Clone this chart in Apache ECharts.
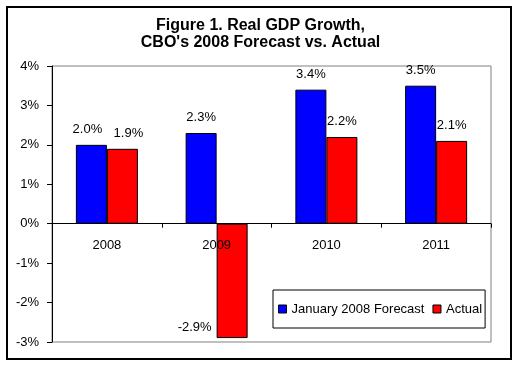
<!DOCTYPE html>
<html>
<head>
<meta charset="utf-8">
<script src="https://cdn.jsdelivr.net/npm/echarts@6/dist/echarts.min.js"></script>
<style>
html,body{margin:0;padding:0;background:#fff;}
#chart{width:521px;height:365px;}
</style>
</head>
<body>
<div id="chart"></div>
<script>
const categories = ['2008', '2009', '2010', '2011'];
const forecast = [2.0, 2.3, 3.4, 3.5];
const actual = [1.9, -2.9, 2.2, 2.1];
const seriesNames = ['January 2008 Forecast', 'Actual'];
const yTicks = [-3, -2, -1, 0, 1, 2, 3, 4];

const FONT = '"Liberation Sans", Arial, sans-serif';
const W = 521, H = 365;
const GRID = { left: 52, right: 30, top: 66, bottom: 23 };
const yMin = yTicks[0], yMax = yTicks[yTicks.length - 1];
// move the category axis up to the zero line
const plotH = H - GRID.top - GRID.bottom;
const zeroOffset = -plotH * (0 - yMin) / (yMax - yMin);

// small label nudges (style only) to keep neighbouring labels apart
const labelNudge = { forecast: [[-4, 0], null, null, null], actual: [[6, 0], null, null, null] };

function mkData(arr, nudges) {
  return arr.map((v, i) => {
    if (v < 0) {
      return { value: v, label: { position: 'left', distance: 5, offset: [0, 47] } };
    }
    if (nudges[i]) {
      return { value: v, label: { offset: nudges[i] } };
    }
    return v;
  });
}

const chart = echarts.init(document.getElementById('chart'), null, { renderer: 'canvas' });
chart.setOption({
  backgroundColor: '#ffffff',
  animation: false,
  title: {
    text: 'Figure 1. Real GDP Growth,\nCBO\'s 2008 Forecast vs. Actual',
    left: 'center',
    top: 17,
    padding: 0,
    textStyle: { fontFamily: FONT, fontSize: 16, fontWeight: 'bold', color: '#000', lineHeight: 17 }
  },
  graphic: [{
    type: 'rect',
    shape: { x: 7, y: 7, width: 504, height: 352 },
    style: { fill: 'none', stroke: '#000', lineWidth: 2 },
    silent: true,
    z: -1
  }],
  legend: {
    data: seriesNames,
    left: 273,
    top: 290,
    orient: 'horizontal',
    backgroundColor: '#fff',
    borderColor: '#000',
    borderWidth: 1,
    padding: [12, 3, 12, 5],
    itemWidth: 8,
    itemHeight: 8,
    itemGap: 8,
    icon: 'rect',
    itemStyle: { borderColor: '#000', borderWidth: 1 },
    textStyle: { fontFamily: FONT, fontSize: 13, color: '#000', lineHeight: 14 }
  },
  grid: {
    left: GRID.left, right: GRID.right, top: GRID.top, bottom: GRID.bottom,
    outerBoundsMode: 'none',
    containLabel: false,
    show: true,
    borderColor: '#808080',
    borderWidth: 1,
    backgroundColor: 'transparent'
  },
  xAxis: {
    type: 'category',
    data: categories,
    position: 'bottom',
    offset: zeroOffset,
    z: 10,
    axisLine: { onZero: false, lineStyle: { color: '#000', width: 1 } },
    axisTick: { show: true, length: 4, alignWithLabel: false, lineStyle: { color: '#000' } },
    axisLabel: { fontFamily: FONT, fontSize: 13, color: '#000', margin: 15 },
    splitLine: { show: false }
  },
  yAxis: {
    type: 'value',
    min: yMin,
    max: yMax,
    interval: 1,
    z: 10,
    axisLine: { show: true, lineStyle: { color: '#000', width: 1 } },
    axisTick: { show: true, length: 5, inside: false, lineStyle: { color: '#000' } },
    axisLabel: { fontFamily: FONT, fontSize: 13, color: '#000', margin: 13, formatter: v => v + '%' },
    splitLine: { show: false }
  },
  series: [
    {
      name: seriesNames[0],
      type: 'bar',
      data: mkData(forecast, labelNudge.forecast),
      barWidth: 31,
      barGap: '0%',
      itemStyle: { color: '#0000ff', borderColor: '#000', borderWidth: 1 },
      label: {
        show: true, position: 'top', distance: 9,
        fontFamily: FONT, fontSize: 13, color: '#000',
        formatter: p => p.value.toFixed(1) + '%'
      }
    },
    {
      name: seriesNames[1],
      type: 'bar',
      data: mkData(actual, labelNudge.actual),
      barWidth: 31,
      barGap: '0%',
      itemStyle: { color: '#ff0000', borderColor: '#000', borderWidth: 1 },
      label: {
        show: true, position: 'top', distance: 9,
        fontFamily: FONT, fontSize: 13, color: '#000',
        formatter: p => p.value.toFixed(1) + '%'
      }
    }
  ]
});
</script>
</body>
</html>
